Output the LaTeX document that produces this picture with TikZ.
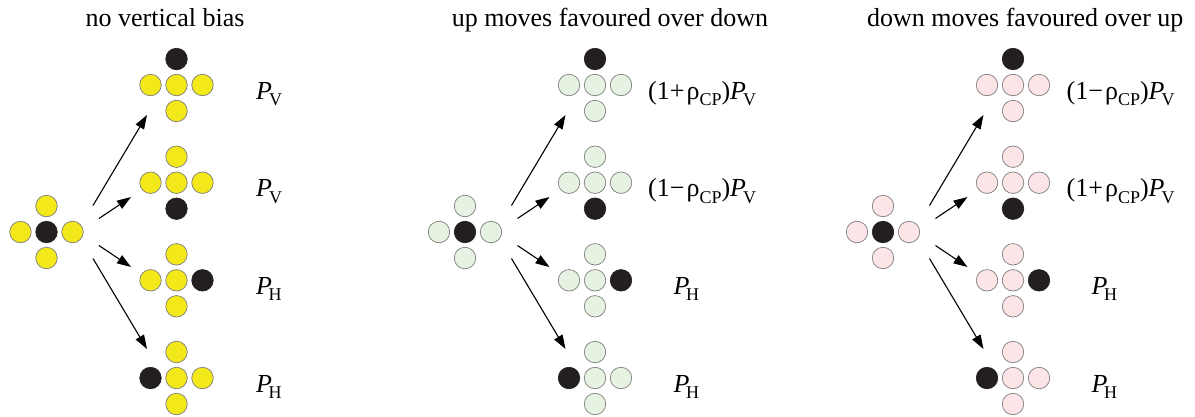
\documentclass[tikz,border=0pt]{standalone}
\usepackage{fontspec}
\setmainfont{Liberation Serif}
\usetikzlibrary{arrows.meta}
\definecolor{cyel}{RGB}{242,232,26}
\definecolor{cgrn}{RGB}{231,243,226}
\definecolor{cpnk}{RGB}{252,228,231}
\definecolor{cblk}{RGB}{35,31,32}
\definecolor{cedge}{RGB}{125,125,125}
\newcommand\mysub[1]{\raisebox{-6.5pt}{\fontsize{18}{18}\selectfont #1}}
\newcommand\PV{\textit{P}\kern-3pt\mysub{V}}
\newcommand\PH{\textit{P}\kern-3.5pt\mysub{H}}
\newcommand\rcp{ρ\mysub{CP}}
\newcommand\plusconf[5]{%
  \foreach \d/\dx/\dy in {c/0/0,n/0/-26,s/0/26,e/26/0,w/-26/0}{%
    \edef\cur{\d}\edef\want{#5}%
    \ifx\cur\want
      \node[hole] (#1-\d) at ({#2+\dx},{#3+\dy}) {};
    \else
      \node[bead,fill=#4] (#1-\d) at ({#2+\dx},{#3+\dy}) {};
    \fi}}
\tikzset{
  bead/.style={circle, minimum size=21.5pt, inner sep=0pt, draw=cedge, line width=0.7pt},
  hole/.style={bead, fill=cblk, draw=cblk},
  move/.style={-{Triangle[length=14pt,width=9.5pt]}, line width=1.1pt, black},
  lab/.style={anchor=base west, inner sep=0pt, font=\fontsize{26}{30}\selectfont},
  ttl/.style={anchor=base, inner sep=0pt, font=\fontsize{26}{30}\selectfont},
}
\begin{document}
\begin{tikzpicture}[x=1pt,y=-1pt]
\useasboundingbox (0,0) rectangle (1195,416);
% titles
\node[ttl] (t1) at (165,26.5) {no vertical bias};
\node[ttl] (t2) at (610,26.5) {up moves favoured over down};
\node[ttl] (t3) at (1025.3,26.5) {down moves favoured over up};
% panels
\foreach \p/\cx/\col in {L/46.5/cyel, M/465/cgrn, R/883/cpnk}{%
  \plusconf{\p S}{\cx}{232}{\col}{c}
  \plusconf{\p 1}{\cx+130}{85}{\col}{n}
  \plusconf{\p 2}{\cx+130}{182.7}{\col}{s}
  \plusconf{\p 3}{\cx+130}{280.3}{\col}{e}
  \plusconf{\p 4}{\cx+130}{378}{\col}{w}
  \coordinate (\p a1) at ({\cx+46.5},205.5);
  \coordinate (\p b1) at ({\cx+100.5},115);
  \coordinate (\p a2) at ({\cx+52.5},218.5);
  \coordinate (\p b2) at ({\cx+84.5},197);
  \coordinate (\p a3) at ({\cx+52.5},245.5);
  \coordinate (\p b3) at ({\cx+84.5},267);
  \coordinate (\p a4) at ({\cx+46.5},258.5);
  \coordinate (\p b4) at ({\cx+100.5},349);
  \draw[move] (\p a1) -- (\p b1);
  \draw[move] (\p a2) -- (\p b2);
  \draw[move] (\p a3) -- (\p b3);
  \draw[move] (\p a4) -- (\p b4);
}
% labels
\node[lab] (Ll1) at (256,99) {\PV};
\node[lab] (Ll2) at (256,196.7) {\PV};
\node[lab] (Ll3) at (256,294.3) {\PH};
\node[lab] (Ll4) at (256,392) {\PH};
\node[lab] (Ml1) at (648,99) {(1+\kern2pt\rcp)\PV};
\node[lab] (Ml2) at (648,196.7) {(1−\kern2pt\rcp)\PV};
\node[lab] (Ml3) at (673.5,294.3) {\PH};
\node[lab] (Ml4) at (673.5,392) {\PH};
\node[lab] (Rl1) at (1066.5,99) {(1−\kern2pt\rcp)\PV};
\node[lab] (Rl2) at (1066.5,196.7) {(1+\kern2pt\rcp)\PV};
\node[lab] (Rl3) at (1091.5,294.3) {\PH};
\node[lab] (Rl4) at (1091.5,392) {\PH};
\end{tikzpicture}
\end{document}
